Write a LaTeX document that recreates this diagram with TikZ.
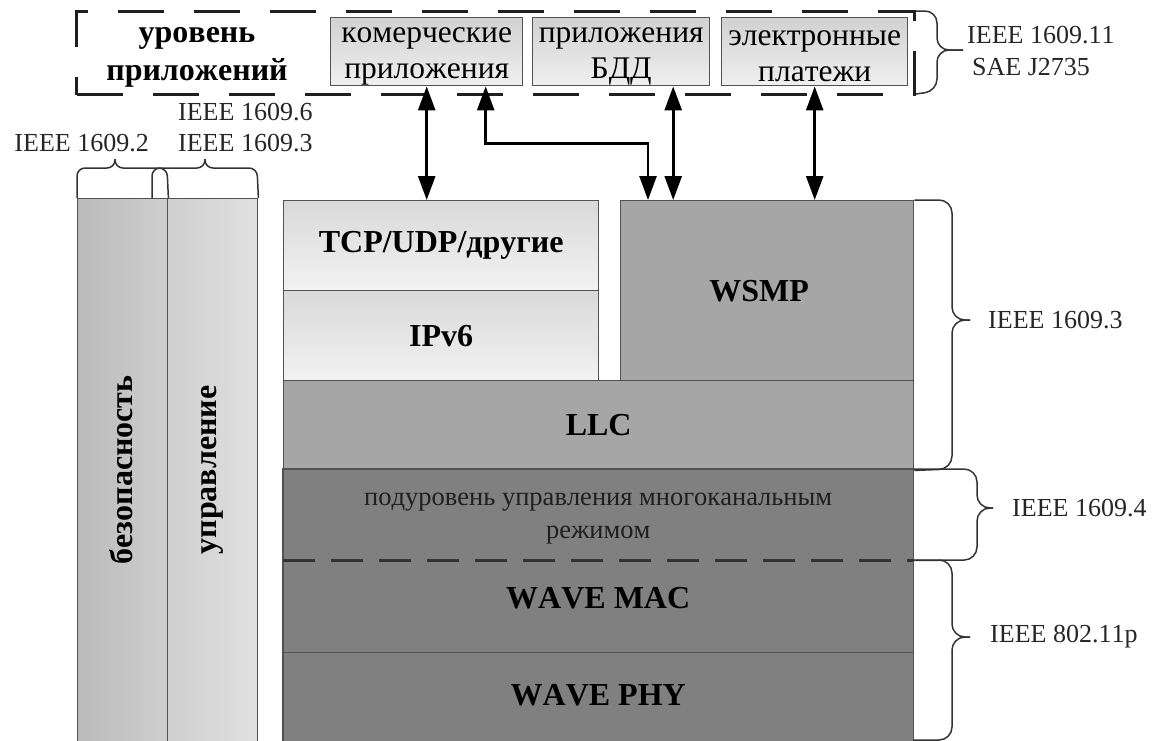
\documentclass[tikz,border=0pt]{standalone}
\usepackage{fontspec}
\setmainfont{Liberation Serif}[Kerning=Off]
\usetikzlibrary{arrows.meta}

\begin{document}
\begin{tikzpicture}[x=1pt,y=-1pt,
  frameline/.style={draw=black!68, line width=1.4pt},
  stackbox/.style={frameline, anchor=north west, inner sep=0pt,
    font=\fontsize{32}{38}\selectfont\bfseries},
  lightbox/.style={stackbox, top color=black!15, bottom color=black!5},
  midbox/.style={stackbox, fill=black!35},
  darkbox/.style={anchor=north west, inner sep=0pt, fill=black!50,
    font=\fontsize{32}{38}\selectfont\bfseries},
  colbox/.style={frameline, anchor=north west, inner sep=0pt},
  coltext/.style={rotate=90, inner sep=0pt, font=\fontsize{32}{38}\selectfont\bfseries},
  appbox/.style={frameline, top color=black!18, bottom color=black!6,
    anchor=north west, inner sep=0pt},
  apptext/.style={inner sep=0pt, align=center, font=\fontsize{31.5}{36}\selectfont},
  std/.style={inner sep=0pt, text=black!85, font=\fontsize{26}{31}\selectfont},
  arr/.style={line width=2.6pt,
    {Triangle[length=24pt,width=17pt]}-{Triangle[length=24pt,width=17pt]}},
  brace/.style={draw=black!80, line width=1.5pt, rounded corners=13pt},
  dashline/.style={draw=black!80, line width=2.6pt, dash pattern=on 32pt off 16pt}
]
\clip (0,0) rectangle (1165,740);
\fill[white] (0,0) rectangle (1165,740);

% application layer
\node[draw=black!88, line width=3pt, dash pattern=on 46pt off 30pt,
  minimum width=838pt, minimum height=83pt, anchor=north west, inner sep=0pt]
  (app) at (75,10) {};
\node[inner sep=0pt, align=center, font=\fontsize{32}{38}\selectfont\bfseries]
  (apptitle) at (197,57) {уровень\\приложений};
\node[appbox, minimum width=192pt, minimum height=68pt] (komm) at (330,17) {};
\node[appbox, minimum width=177pt, minimum height=68pt] (bdd) at (532,17) {};
\node[appbox, minimum width=186pt, minimum height=68pt] (pay) at (721,17) {};
\node[apptext, yshift=-5pt] (kommtxt) at (komm.center) {комерческие\\приложения};
\node[apptext, yshift=-5pt] (bddtxt) at (bdd.center) {приложения\\БДД};
\node[apptext, yshift=-5pt] (paytxt) at (pay.center) {электронные\\платежи};

% side columns
\node[colbox, left color=black!27, right color=black!19,
  minimum width=90pt, minimum height=560pt] (sec) at (77,198) {};
\node[colbox, left color=black!19, right color=black!12,
  minimum width=90pt, minimum height=560pt] (mgmt) at (167,198) {};
\node[coltext] (sectext) at (121,470) {безопасность};
\node[coltext] (mgmttext) at (212,470) {управление};

% protocol stack
\node[lightbox, minimum width=315pt, minimum height=90pt] (tcp) at (283,200) {TCP/UDP/другие};
\node[lightbox, minimum width=315pt, minimum height=90pt] (ipv6) at (283,290) {IPv6};
\node[midbox, minimum width=293pt, minimum height=180pt] (wsmp) at (620,200) {};
\node[inner sep=0pt, font=\fontsize{32}{38}\selectfont\bfseries]
  (wsmptxt) at ([xshift=-8pt]wsmp.center) {WSMP};
\node[midbox, minimum width=630pt, minimum height=89pt] (llc) at (283,380) {LLC};
\node[darkbox, minimum width=630pt, minimum height=91pt, anchor=north west] (mcm) at (283,469) {};
\node[inner sep=0pt, align=center, text=black!88, font=\fontsize{26.5}{33}\selectfont]
  (mcmtxt) at ([yshift=-4pt]mcm.center) {подуровень управления многоканальным\\режимом};
\node[darkbox, minimum width=630pt, minimum height=92pt, text depth=16pt] (mac) at (283,560) {WAVE MAC};
\node[darkbox, minimum width=630pt, minimum height=100pt, text depth=14pt] (phy) at (283,652) {WAVE PHY};
\draw[frameline] (mcm.north west) rectangle (phy.south east);
\draw[frameline] (mac.south west) -- (mac.south east);
\draw[dashline] (mcm.south west) -- (mcm.south east);

% connectors between applications and the stack
\draw[arr] (komm.south) -- (komm.south |- tcp.north);
\draw[arr] ([xshift=59pt]komm.south) -- ++(0,57) -| ([xshift=28pt]wsmp.north west);
\draw[arr] ([xshift=52pt]bdd.south) -- ([xshift=52pt]bdd.south |- wsmp.north);
\draw[arr] (pay.south) -- (pay.south |- wsmp.north);

% braces on the right
\draw[brace, rounded corners=12pt] (app.north east) ++(0,1) -- (937,11) -- (937,50) -- (963,50);
\draw[brace, rounded corners=12pt] (app.south east) ++(0,-2) -- (937,91) -- (937,50) -- (963,50);
\node[std, anchor=west] (std11) at (967,35) {IEEE 1609.11};
\node[std, anchor=west] (sae) at (972,67) {SAE J2735};

\draw[brace] (wsmp.north east) -- (952,200) -- (952,320) -- (970,320);
\draw[brace] (llc.south east) -- (952,469) -- (952,320) -- (970,320);
\node[std, anchor=west] (std3r) at (988,320) {IEEE 1609.3};

\draw[brace] (mcm.north east) -- (977,469) -- (977,508) -- (993,508);
\draw[brace] (mcm.south east) -- (977,560) -- (977,508) -- (993,508);
\node[std, anchor=west] (std4) at (1012,508) {IEEE 1609.4};

\draw[brace] (mac.north east) -- (952,560) -- (952,637) -- (970,637);
\draw[brace] (913,740) -- (952,740) -- (952,637) -- (970,637);
\node[std, anchor=west] (std80211) at (990,637) {IEEE 802.11p};

% braces above the side columns
\draw[brace, rounded corners=8pt] (sec.north west) -- (77,168) -- (115,168) -- (115,159);
\draw[brace, rounded corners=8pt] (sec.north east) -- (167,168) -- (115,168) -- (115,159);
\draw[brace, rounded corners=8pt] (152,198) -- (152,168) -- (205,168) -- (205,159);
\draw[brace, rounded corners=8pt] (mgmt.north east) -- (257,168) -- (205,168) -- (205,159);
\node[std, anchor=east] (std2) at (149,143) {IEEE 1609.2};
\node[std, anchor=west] (std6) at (178,112) {IEEE 1609.6};
\node[std, anchor=west] (std3l) at (178,143) {IEEE 1609.3};
\end{tikzpicture}
\end{document}
